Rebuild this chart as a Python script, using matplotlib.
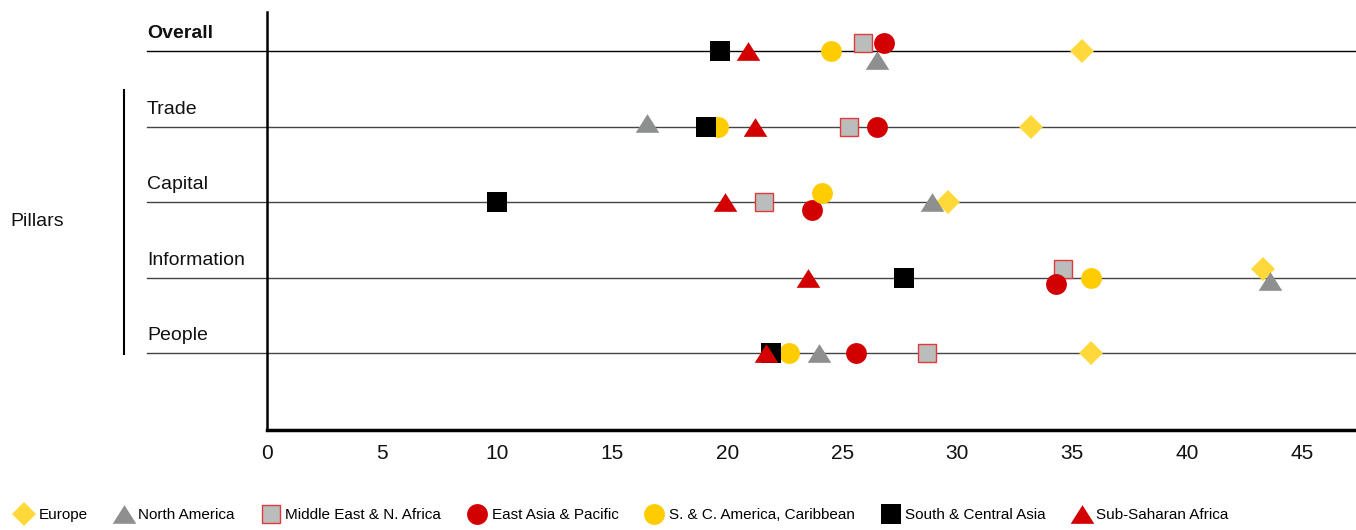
"""Dot plot of regional scores across the overall index and its pillars."""

import matplotlib

matplotlib.use("Agg")
import matplotlib.pyplot as plt
from matplotlib.lines import Line2D

plt.rcParams["font.family"] = ["Liberation Sans", "DejaVu Sans"]

rows = ["Overall", "Trade", "Capital", "Information", "People"]
regions = [
    "Europe",
    "North America",
    "Middle East & N. Africa",
    "East Asia & Pacific",
    "S. & C. America, Caribbean",
    "South & Central Asia",
    "Sub-Saharan Africa",
]

# scores per region, in row order: Overall, Trade, Capital, Information, People
europe = [35.4, 33.2, 29.6, 43.3, 35.8]
north_america = [26.5, 16.5, 28.9, 43.6, 24.0]
mena = [25.9, 25.3, 21.6, 34.6, 28.7]
east_asia = [26.8, 26.5, 23.7, 34.3, 25.6]
latin_america = [24.5, 19.6, 24.1, 35.8, 22.7]
south_asia = [19.7, 19.1, 10.0, 27.7, 21.9]
sub_saharan = [20.9, 21.2, 19.9, 23.5, 21.7]

xticks = [0, 5, 10, 15, 20, 25, 30, 35, 40, 45]

series = [europe, north_america, mena, east_asia, latin_america, south_asia, sub_saharan]

tri = [(-1.0, -0.79), (1.0, -0.79), (0.0, 0.79)]
styles = [
    dict(marker="D", ms=12.5, mfc="#FFD93A", mec="#FFD93A", mew=0),
    dict(marker=tri, ms=17.0, mfc="#8E9090", mec="#8E9090", mew=0),
    dict(marker="s", ms=13.0, mfc="#BBBDBD", mec="#E03A3C", mew=1.0),
    dict(marker="o", ms=15.0, mfc="#D20000", mec="#D20000", mew=0),
    dict(marker="o", ms=15.0, mfc="#FFCC00", mec="#FFCC00", mew=0),
    dict(marker="s", ms=14.0, mfc="#000000", mec="#000000", mew=0),
    dict(marker=tri, ms=17.0, mfc="#D20000", mec="#D20000", mew=0),
]

# vertical nudges (in row units) where the original separates overlapping markers
nudge = {
    (0, 1): 0.11, (0, 2): -0.11, (0, 3): -0.11,
    (1, 1): -0.05,
    (2, 3): 0.11, (2, 4): -0.12,
    (3, 0): -0.12, (3, 1): 0.04, (3, 2): -0.11, (3, 3): 0.09,
}

W, H = 1356, 530
fig = plt.figure(figsize=(W / 100, H / 100), dpi=100)
ax = fig.add_axes([267 / W, 1 - 430 / H, (1354 - 267) / W, (430 - 12) / H])

xmax = (1354 - 267) / 23.01
ax.set_xlim(0, xmax)
ax.set_ylim(5.02, -0.52)

x_left = (147 - 267) / 23.01
x_right = (1356 - 267) / 23.01
for i, name in enumerate(rows):
    ax.plot([x_left, x_right], [i, i], color="#000000" if i == 0 else "#444444",
            lw=1.0, clip_on=False, zorder=1)
    ax.text(x_left, i - 0.12, name, fontsize=14, va="bottom", ha="left",
            fontweight="bold" if i == 0 else "normal", color="#111111")

handles = []
for r, (values, st) in enumerate(zip(series, styles)):
    for i, v in enumerate(values):
        ax.plot(v, i + nudge.get((i, r), 0.0), linestyle="none", zorder=3 + r,
                clip_on=False, **st)
    handles.append(Line2D([], [], linestyle="none", **st))

# bracket grouping the pillar rows
xb = (124 - 267) / 23.01
ax.plot([xb, xb], [(90 - 51) / 75.5, (354 - 51) / 75.5], color="#000000", lw=1.5,
        clip_on=False)
fig.text(10 / W, 1 - 222 / H, "Pillars", fontsize=14, va="center", ha="left",
         color="#111111")

for side in ("top", "right"):
    ax.spines[side].set_visible(False)
ax.spines["left"].set_linewidth(1.8)
ax.spines["bottom"].set_linewidth(2.5)
ax.set_yticks([])
ax.set_xticks(xticks)
ax.tick_params(axis="x", length=0, pad=10, labelsize=15, labelcolor="#111111")

fig.legend(handles, regions, loc="center left", bbox_to_anchor=(0.005, 1 - 515 / H),
           ncol=7, frameon=False, fontsize=11, handletextpad=0.2,
           columnspacing=1.6, handlelength=1.5, borderaxespad=0)

fig.savefig("out.png", dpi=100)
